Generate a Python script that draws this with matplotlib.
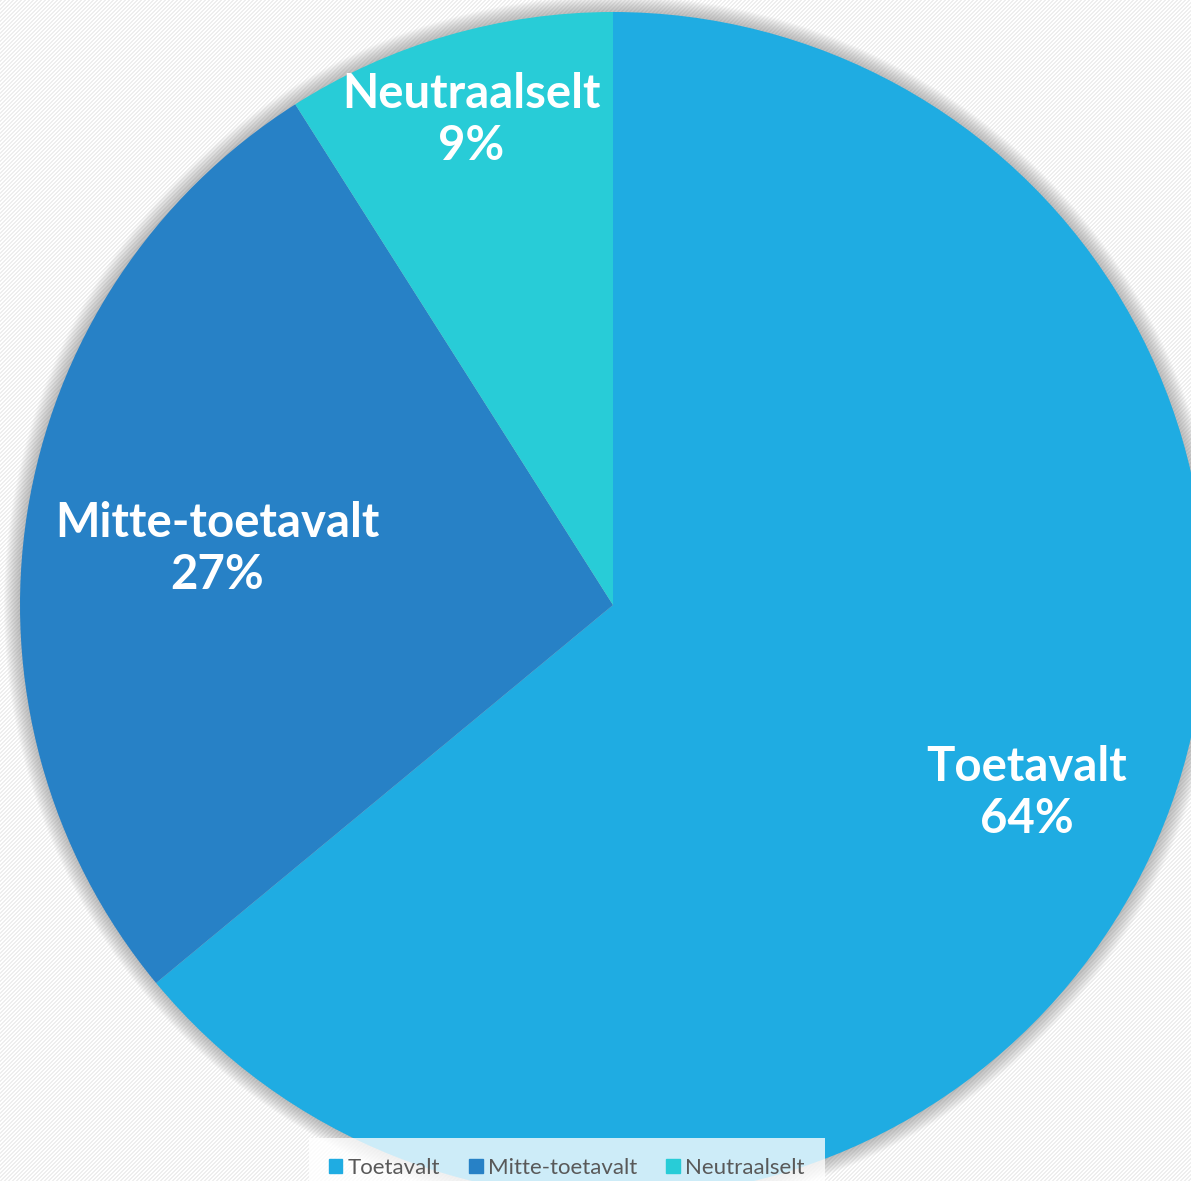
"""Pie chart of the answer shares (Toetavalt / Mitte-toetavalt / Neutraalselt)."""

import matplotlib
matplotlib.use('Agg')
import matplotlib.patches as mpatches
import matplotlib.pyplot as plt
import numpy as np

labels = ['Toetavalt', 'Mitte-toetavalt', 'Neutraalselt']
shares = [64, 27, 9]
colors = ['#1FACE2', '#2781C6', '#28CCD7']

W, H = 1191, 1181
CX, CY, R = 613, H - 605, 593


def main():
    fig = plt.figure(figsize=(W / 100, H / 100), dpi=100)
    ax = fig.add_axes([0, 0, 1, 1])

    # striped background
    yy, xx = np.mgrid[0:H, 0:W]
    stripes = ((xx + yy) % 4) < 2
    bg = np.where(stripes, 0.93, 1.0)
    ax.imshow(bg, cmap='gray', vmin=0, vmax=1, extent=(0, W, 0, H),
              zorder=0, interpolation='nearest', aspect='auto')

    # soft shadow round the pie
    for i in range(16):
        ax.add_patch(mpatches.Circle((CX, CY), R + 16 - i, color='#707070',
                                     alpha=0.03, lw=0, zorder=1))

    wedges, _ = ax.pie(shares, colors=colors, startangle=90,
                       counterclock=False, center=(CX, CY), radius=R,
                       wedgeprops=dict(linewidth=0), frame=True)
    for w in wedges:
        w.set_zorder(2)
    ax.set_xlim(0, W)
    ax.set_ylim(0, H)
    ax.axis('off')

    # data labels
    label_pos = [(1027, 793), (217, 549), (471, 120)]
    for lab, val, (x, y) in zip(labels, shares, label_pos):
        ax.text(x, H - y, '{}\n{}%'.format(lab, val), ha='center',
                va='center', color='white', fontsize=34, fontweight='bold',
                family='Lato', linespacing=1.2, zorder=3)

    handles = [mpatches.Patch(color=c, label=l) for c, l in zip(colors, labels)]
    leg = ax.legend(handles=handles, ncol=3, loc='upper center',
                    bbox_to_anchor=(567 / W, 1 - 1138 / H), frameon=True,
                    fancybox=False, framealpha=0.78, edgecolor='none',
                    facecolor='white', handlelength=0.6,
                    handleheight=0.6, handletextpad=0.25, columnspacing=1.3,
                    borderpad=0.9, borderaxespad=0,
                    prop={'family': 'Lato', 'size': 16})
    for t in leg.get_texts():
        t.set_color('#595959')
    leg.set_zorder(4)

    fig.savefig('out.png', dpi=100)


if __name__ == '__main__':
    main()
